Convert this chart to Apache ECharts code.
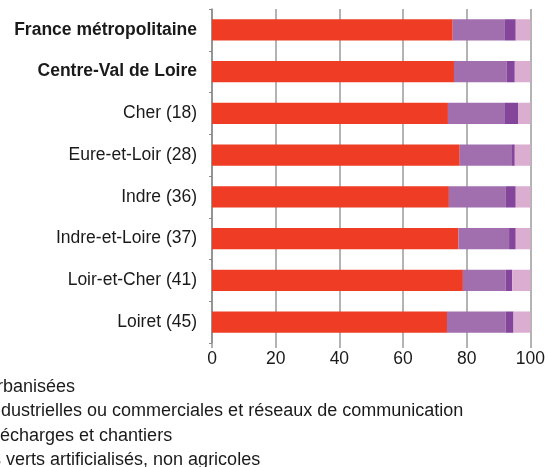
<!DOCTYPE html>
<html>
<head>
<meta charset="utf-8">
<script src="https://cdn.jsdelivr.net/npm/echarts@6/dist/echarts.min.js"></script>
<style>
  html, body { margin: 0; padding: 0; background: #fff; }
  #chart { width: 548px; height: 467px; }
</style>
</head>
<body>
<div id="chart"></div>
<script>
// Territoires (du haut vers le bas)
const territoires = [
  'France métropolitaine',
  'Centre-Val de Loire',
  'Cher (18)',
  'Eure-et-Loir (28)',
  'Indre (36)',
  'Indre-et-Loire (37)',
  'Loir-et-Cher (41)',
  'Loiret (45)'
];
const enGras = ['France métropolitaine', 'Centre-Val de Loire'];

// Répartition des sols artificialisés (en %)
const zonesUrbanisees       = [75.6, 76.0, 74.1, 77.8, 74.4, 77.4, 78.8, 73.8];
const zonesIndustrielles    = [16.4, 16.6, 17.7, 16.2, 17.9, 15.9, 13.4, 18.4];
const minesDecharges        = [ 3.4,  2.5,  4.3,  1.1,  3.1,  2.1,  2.1,  2.5];
const espacesVerts          = [ 4.6,  4.9,  3.9,  4.9,  4.6,  4.6,  5.7,  5.3];

const nomsSeries = [
  'Zones urbanisées',
  'Zones industrielles ou commerciales et réseaux de communication',
  'Mines, décharges et chantiers',
  'Espaces verts artificialisés, non agricoles'
];
const couleurs = ['#ee3d24', '#a16eae', '#84469b', '#dbadd1'];
const valeurs = [zonesUrbanisees, zonesIndustrielles, minesDecharges, espacesVerts];

const ticksX = [0, 20, 40, 60, 80, 100];

const police = '"Liberation Sans", Arial, Helvetica, sans-serif';
const taille = 17.5;

const chart = echarts.init(document.getElementById('chart'), null, { renderer: 'canvas' });

chart.setOption({
  animation: false,
  textStyle: { fontFamily: police },
  grid: { left: 212, right: 16, top: 9, bottom: 124, containLabel: false },
  legend: {
    orient: 'vertical',
    left: -92,
    top: 373,
    height: 120,
    itemWidth: 14,
    itemHeight: 14,
    itemGap: 6.5,
    icon: 'rect',
    textStyle: { fontSize: 18, color: '#1a1a1a', fontFamily: police },
    data: nomsSeries
  },
  xAxis: {
    type: 'value',
    min: ticksX[0],
    max: ticksX[ticksX.length - 1],
    interval: 20,
    axisLine: { show: false },
    axisTick: { show: true, length: 5, lineStyle: { color: '#9a9a9a', width: 1.5 } },
    axisLabel: { fontSize: taille, color: '#1a1a1a', margin: 7, fontFamily: police },
    splitLine: { show: true, lineStyle: { color: '#9a9a9a', width: 1.5 } }
  },
  yAxis: {
    type: 'category',
    inverse: true,
    data: territoires,
    axisLine: { show: true, lineStyle: { color: '#8a8a8a', width: 1.5 } },
    axisTick: { show: true, length: 3, lineStyle: { color: '#8a8a8a' } },
    axisLabel: {
      margin: 15,
      fontSize: taille,
      color: '#1a1a1a',
      fontFamily: police,
      formatter: function (v) {
        return enGras.indexOf(v) >= 0 ? '{b|' + v + '}' : v;
      },
      rich: {
        b: { fontWeight: 'bold', fontSize: taille, color: '#1a1a1a', fontFamily: police }
      }
    }
  },
  series: valeurs.map(function (vals, i) {
    return {
      name: nomsSeries[i],
      type: 'bar',
      stack: 'total',
      barWidth: '51%',
      itemStyle: { color: couleurs[i] },
      data: vals
    };
  })
});
</script>
</body>
</html>
